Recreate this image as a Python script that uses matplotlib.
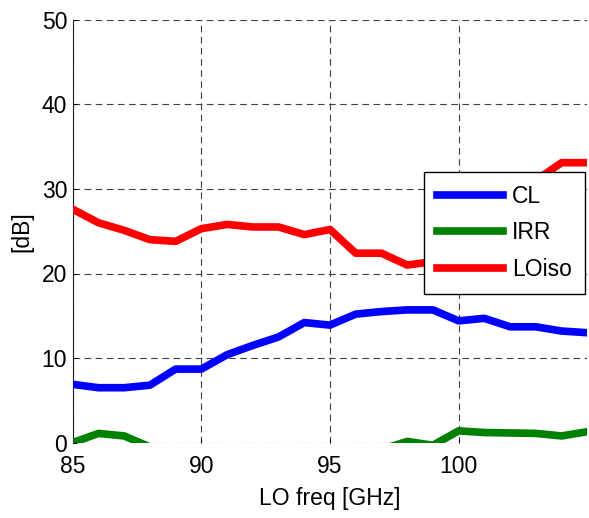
import matplotlib
matplotlib.use("Agg")
import matplotlib.pyplot as plt

# LO frequency sweep, GHz
lo_freq = [85, 86, 87, 88, 89, 90, 91, 92, 93, 94, 95,
           96, 97, 98, 99, 100, 101, 102, 103, 104, 105]

# conversion loss [dB]
cl = [6.9, 6.5, 6.5, 6.8, 8.7, 8.7, 10.4, 11.5, 12.5, 14.2, 13.9,
      15.2, 15.5, 15.7, 15.7, 14.4, 14.7, 13.7, 13.7, 13.2, 13.0]

# image rejection ratio [dB]
irr = [0.0, 1.1, 0.8, -0.5, -1.5, -2.0, -2.5, -2.5, -2.0, -1.5, -1.5,
       -1.0, -0.8, 0.15, -0.3, 1.4, 1.2, 1.15, 1.1, 0.8, 1.3]

# LO isolation [dB]
lo_iso = [27.6, 26.0, 25.1, 24.0, 23.8, 25.3, 25.8, 25.5, 25.5, 24.6, 25.2,
          22.4, 22.4, 21.0, 21.4, 22.5, 25.0, 28.0, 31.0, 33.1, 33.1]

x_ticks = [85, 90, 95, 100]
y_ticks = [0, 10, 20, 30, 40, 50]

plt.rcParams['font.family'] = ['Liberation Sans', 'DejaVu Sans']
fs = 16.5

fig = plt.figure(figsize=(5.89, 5.18), dpi=100)
ax = fig.add_axes([72.7 / 589, 1 - 442.7 / 518, (587.3 - 72.7) / 589, (442.7 - 19.7) / 518])

lw = 5.5
ax.plot(lo_freq, cl, color=(0, 0, 1), lw=lw, label='CL', zorder=3)
ax.plot(lo_freq, irr, color=(0, 0.5, 0), lw=lw, label='IRR', zorder=3)
ax.plot(lo_freq, lo_iso, color=(1, 0, 0), lw=lw, label='LOiso', zorder=3)

ax.set_xlim(85, 105)
ax.set_ylim(0, 50)
ax.set_xticks(x_ticks)
ax.set_yticks(y_ticks)
ax.tick_params(axis='both', labelsize=fs, direction='in', length=3, width=0.7)
ax.tick_params(axis='x', pad=9)
ax.tick_params(axis='y', pad=4)

ax.grid(True, linestyle=(0, (6, 4)), color='#404040', linewidth=0.8)
ax.set_axisbelow(True)
for s in ['top', 'right', 'bottom']:
    ax.spines[s].set_visible(False)
ax.spines['left'].set_linewidth(0.8)
ax.spines['left'].set_color('#202020')

ax.set_xlabel('LO freq [GHz]', fontsize=fs, labelpad=6)
ax.set_ylabel('[dB]', fontsize=fs, labelpad=6)

leg = ax.legend(loc='upper left', bbox_to_anchor=(424 / 589, 1 - 172 / 518),
                bbox_transform=fig.transFigure, fontsize=fs, frameon=True,
                fancybox=False, handlelength=2.9, handletextpad=0.4,
                borderpad=0.55, labelspacing=0.6, borderaxespad=0)
leg.get_frame().set_edgecolor('black')
leg.get_frame().set_linewidth(1.0)
leg.get_frame().set_alpha(1)

fig.savefig('out.png', dpi=100)
